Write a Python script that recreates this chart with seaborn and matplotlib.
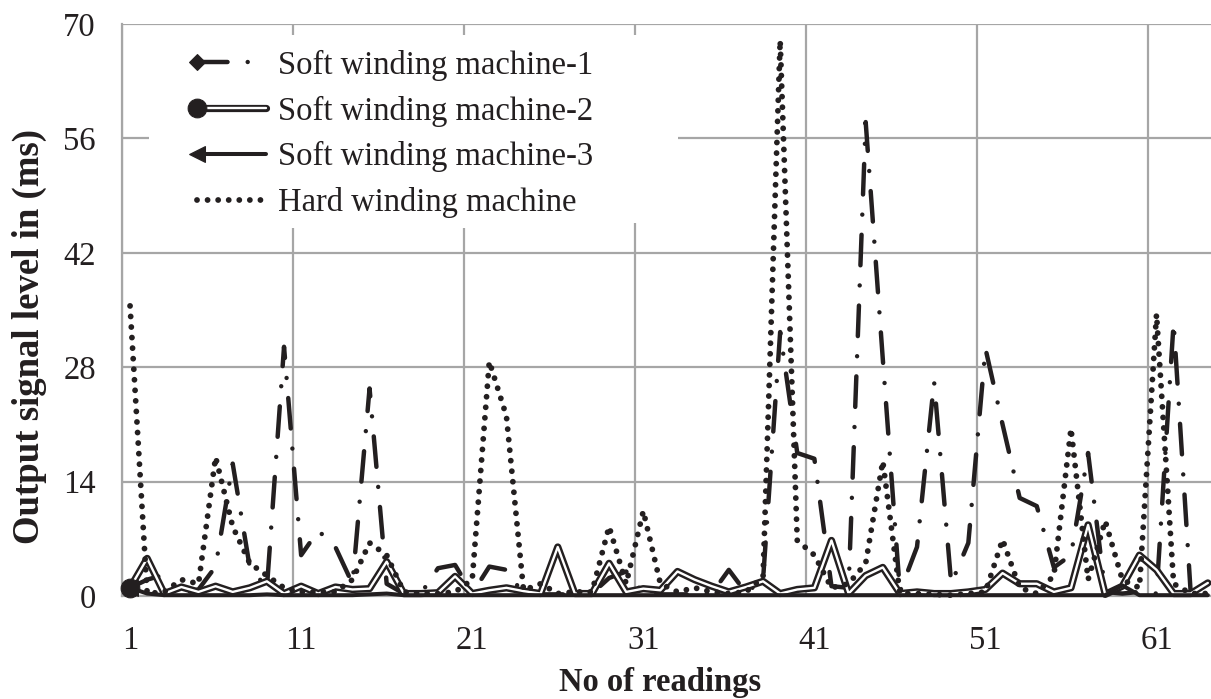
import numpy as np
import pandas as pd
import matplotlib
matplotlib.use("Agg")
import matplotlib.pyplot as plt
import seaborn as sns
from matplotlib.legend_handler import HandlerTuple, HandlerLine2D
from matplotlib.lines import Line2D
from matplotlib.patches import Rectangle

# ---------------- data ----------------
readings = list(range(1, 65))

soft1 = [1.0, 2.0, 2.6, 0.3, 0.8, 3.6, 16.2, 3.5, 1.0, 30.5,
         5.0, 8.0, 6.0, 1.5, 25.4, 1.5, 0.3, 0.3, 3.4, 3.8,
         0.3, 3.6, 3.2, 0.2, 0.2, 0.2, 0.2, 0.3, 2.2, 3.0,
         0.3, 0.2, 0.2, 0.2, 0.3, 3.2, 0.4, 2.0, 32.3, 17.5,
         16.8, 1.2, 1.0, 58.0, 29.0, 0.5, 6.0, 26.2, 1.5, 6.5,
         30.3, 21.0, 12.0, 11.0, 3.5, 5.0, 17.5, 0.5, 0.3, 0.5,
         0.3, 33.5, 0.3, 0.2]

soft2 = [1.0, 4.6, 0.3, 1.1, 0.5, 1.2, 0.5, 1.0, 1.8, 0.3,
         1.2, 0.3, 1.1, 0.8, 0.9, 4.2, 0.3, 0.3, 0.4, 2.4,
         0.3, 0.7, 1.0, 0.6, 0.3, 6.0, 0.3, 0.3, 4.0, 0.5,
         0.9, 0.7, 3.0, 2.0, 1.2, 0.5, 1.1, 1.8, 0.3, 0.8,
         1.0, 6.8, 0.3, 2.5, 3.5, 0.3, 0.5, 0.3, 0.3, 0.5,
         0.8, 2.8, 1.5, 1.5, 0.5, 1.0, 8.7, 0.2, 1.2, 5.0,
         3.2, 0.3, 0.3, 1.6]

soft3 = [1.0, 0.3, 0.1, 0.1, 0.1, 0.1, 0.1, 0.1, 0.2, 0.1,
         0.1, 0.1, 0.1, 0.1, 0.2, 0.3, 0.1, 0.1, 0.1, 0.1,
         0.1, 0.1, 0.1, 0.1, 0.1, 0.1, 0.1, 0.1, 0.1, 0.1,
         0.1, 0.1, 0.1, 0.1, 0.1, 0.1, 0.1, 0.1, 0.1, 0.1,
         0.1, 0.1, 0.1, 0.1, 0.1, 0.1, 0.1, 0.1, 0.1, 0.1,
         0.1, 0.1, 0.1, 0.1, 0.1, 0.1, 0.1, 0.1, 1.3, 0.1,
         0.1, 0.1, 0.1, 0.1]

hard = [35.5, 0.3, 0.5, 2.0, 1.5, 17.0, 8.5, 4.0, 2.5, 1.0,
        0.5, 0.5, 0.5, 2.0, 6.5, 5.0, 0.5, 0.3, 0.3, 0.5,
        2.0, 28.7, 22.0, 0.7, 1.5, 0.3, 0.5, 0.5, 8.5, 1.5,
        10.4, 1.5, 0.5, 1.0, 0.5, 0.3, 0.5, 2.3, 68.0, 6.8,
        5.0, 1.0, 1.5, 4.0, 16.5, 0.3, 0.3, 0.2, 0.1, 0.3,
        0.5, 6.9, 1.0, 0.3, 2.5, 20.5, 2.0, 9.2, 2.0, 1.0,
        34.5, 1.5, 0.3, 0.3]

series_names = ["Soft winding machine-1", "Soft winding machine-2",
                "Soft winding machine-3", "Hard winding machine"]
x_tick_values = [1, 11, 21, 31, 41, 51, 61]
x_tick_labels = ["1", "11", "21", "31", "41", "51", "61"]
y_ticks = [0, 14, 28, 42, 56, 70]
y_tick_labels = ["0", "14", "28", "42", "56", "70"]
x_label = "No of readings"
y_label = "Output signal level in (ms)"

df = pd.DataFrame({"reading": readings, "s1": soft1, "s2": soft2,
                   "s3": soft3, "hard": hard})

# ---------------- style ----------------
sns.set_theme(style="white")
plt.rcParams["font.family"] = ["Liberation Serif", "DejaVu Serif"]
plt.rcParams["lines.scale_dashes"] = False

INK = "#231f20"
GRID = "#a6a6a6"
FS = 23.5

W, H = 1211, 699
fig = plt.figure(figsize=(W / 100, H / 100), dpi=100)
fig.patch.set_facecolor("white")
left_px, right_px, top_px, bottom_px = 121.5, 1216.4, 24, 596
ax = fig.add_axes([left_px / W, 1 - bottom_px / H,
                   (right_px - left_px) / W, (bottom_px - top_px) / H])
ax.set_facecolor("white")

common = dict(data=df, x="reading", ax=ax, estimator=None, sort=False,
              legend=False, clip_on=False)

# Soft winding machine-1 : long dash - dot, diamond marker at first point
sns.lineplot(y="s1", color=INK, linewidth=3.2,
             linestyle=(0, (22.0, 14.5, 0.01, 14.5)),
             dash_capstyle="round", solid_joinstyle="round",
             marker="D", markevery=[0], markersize=8.5,
             markeredgecolor=INK, markerfacecolor=INK, zorder=3, **common)
l1 = ax.lines[-1]

# Soft winding machine-2 : double line (black outline, white core)
sns.lineplot(y="s2", color=INK, linewidth=5.2, solid_joinstyle="round",
             solid_capstyle="round", zorder=3.1, **common)
l2b = ax.lines[-1]
sns.lineplot(y="s2", color="white", linewidth=1.7, solid_joinstyle="round",
             solid_capstyle="round", zorder=3.2, **common)
l2w = ax.lines[-1]

# Soft winding machine-3 : solid thick line, arrow marker at first point
sns.lineplot(y="s3", color=INK, linewidth=2.9, solid_joinstyle="round",
             solid_capstyle="round", marker="<", markevery=[0],
             markersize=11, markeredgecolor=INK, markerfacecolor=INK,
             zorder=3.3, **common)
l3 = ax.lines[-1]

# Hard winding machine : round dots
sns.lineplot(y="hard", color=INK, linewidth=4.2,
             linestyle=(0, (0.01, 7.6)), dash_capstyle="round",
             zorder=3.4, **common)
lh = ax.lines[-1]

# big circle marker of machine-2 on top
sns.lineplot(y="s2", color=INK, linestyle="None", marker="o",
             markevery=[0], markersize=13.5, markeredgecolor=INK,
             markerfacecolor=INK, zorder=3.6, **common)
l2m = ax.lines[-1]

# ---------------- axes ----------------
ax.set_xlim(0.5, 64.5)
ax.set_ylim(0, 70)
ax.set_yticks(y_ticks)
ax.set_yticklabels(y_tick_labels)
ax.set_xticks(x_tick_values)
ax.set_xticklabels(x_tick_labels)
ax.set_xticks(np.arange(0.5, 65, 10), minor=True)

ax.grid(True, axis="y", which="major", color=GRID, linewidth=1.6)
ax.grid(True, axis="x", which="minor", color=GRID, linewidth=1.6)
ax.grid(False, axis="x", which="major")
ax.set_axisbelow(True)

ax.tick_params(axis="y", which="major", length=6.5, width=1.5, color=GRID,
               labelsize=FS, labelcolor=INK, pad=12)
ax.tick_params(axis="x", which="major", length=0, labelsize=FS,
               labelcolor=INK, pad=21)
ax.tick_params(axis="x", which="minor", length=6.5, width=1.5, color=GRID)

for side in ["top", "right"]:
    ax.spines[side].set_visible(False)
for side in ["left", "bottom"]:
    ax.spines[side].set_color(GRID)
    ax.spines[side].set_linewidth(1.6)

ax.set_xlabel(x_label, fontsize=FS, fontweight="bold", color=INK)
ax.set_ylabel(y_label, fontsize=26.5, fontweight="bold", color=INK)
ax_w = right_px - left_px
ax_h = bottom_px - top_px
ax.xaxis.set_label_coords((660 - left_px) / ax_w, (bottom_px - 667) / ax_h)
ax.yaxis.set_label_coords((47 - left_px) / ax_w, (bottom_px - 336) / ax_h)

# white area behind the legend (breaks the gridlines like the original)
ax.add_patch(Rectangle((149 / W, 1 - 223 / H), (678 - 149) / W,
                       (223 - 35) / H, transform=fig.transFigure,
                       facecolor="white", edgecolor="none", zorder=1))


class LeftMarkerHandler(HandlerLine2D):
    """Legend line whose marker sits at the left end (as in Excel)."""
    def create_artists(self, legend, orig_handle, xdescent, ydescent,
                       width, height, fontsize, trans):
        arts = super().create_artists(legend, orig_handle, xdescent,
                                      ydescent, width, height, fontsize,
                                      trans)
        for a in arts:
            a.set_markevery([0])
        return arts


leg = ax.legend(handles=[l1, (l2b, l2w, l2m), l3, lh], labels=series_names,
                handler_map={tuple: HandlerTuple(ndivide=1, pad=0),
                             Line2D: LeftMarkerHandler()},
                loc="upper left",
                bbox_to_anchor=((187 - left_px) / ax_w, (bottom_px - 40) / ax_h),
                borderaxespad=0, borderpad=0.3, fontsize=FS,
                handlelength=2.12, handletextpad=0.38, labelspacing=0.45,
                frameon=True, fancybox=False, framealpha=1,
                facecolor="white", edgecolor="none")
for t in leg.get_texts():
    t.set_color(INK)
leg.set_zorder(5)

fig.savefig("out.png", dpi=100, facecolor="white")
